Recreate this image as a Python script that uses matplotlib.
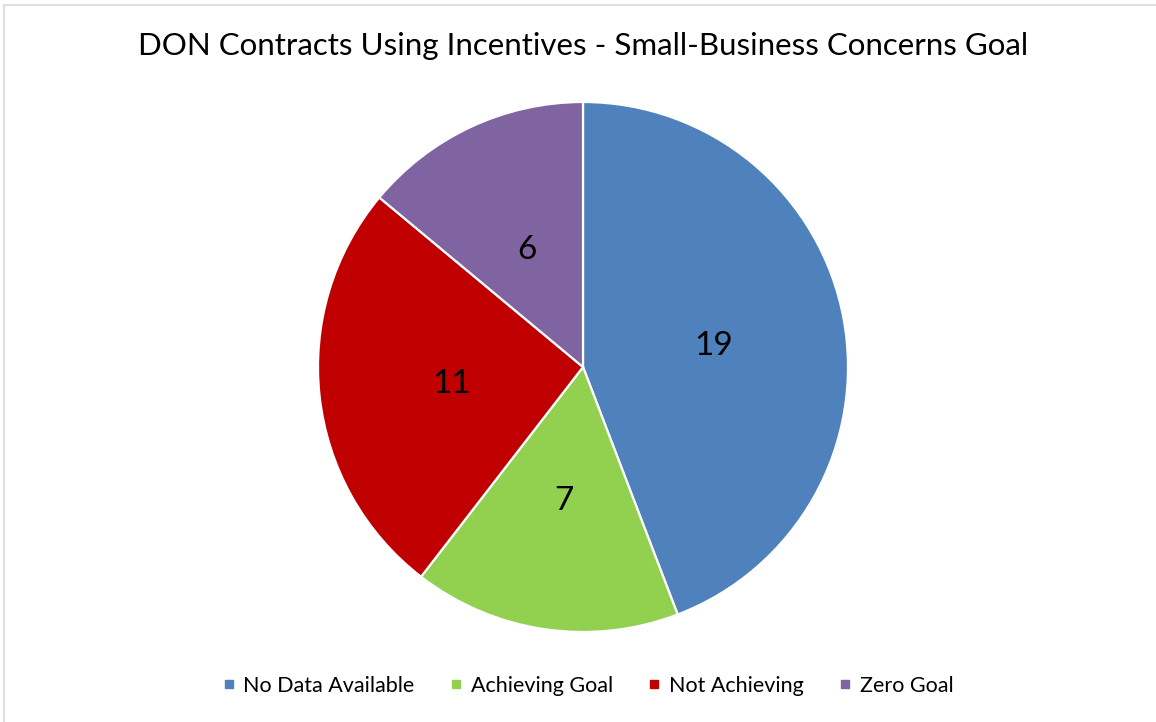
import matplotlib
matplotlib.use("Agg")
import matplotlib.pyplot as plt
from matplotlib.lines import Line2D

categories = ["No Data Available", "Achieving Goal", "Not Achieving", "Zero Goal"]
values = [19, 7, 11, 6]
colors = ["#4F81BD", "#92D050", "#C00000", "#8064A2"]
title = "DON Contracts Using Incentives - Small-Business Concerns Goal"

plt.rcParams['font.family'] = ['Lato', 'DejaVu Sans']

W, H = 1156, 722
fig = plt.figure(figsize=(W / 100, H / 100), dpi=100)
fig.patch.set_facecolor("white")

cx, cy, r = 583, 367, 265
ax = fig.add_axes([(cx - r) / W, 1 - (cy + r) / H, 2 * r / W, 2 * r / H])
wedges, texts, autotexts = ax.pie(
    values, colors=colors, startangle=90, counterclock=False,
    autopct=lambda p: f"{round(p * sum(values) / 100):d}", pctdistance=0.5,
    wedgeprops=dict(edgecolor="white", linewidth=1.6),
    textprops=dict(fontsize=24, color="black"))
for t in autotexts:
    t.set_va("center_baseline")
ax.set_xlim(-1, 1)
ax.set_ylim(-1, 1)
ax.set_aspect("equal")
ax.axis("off")

fig.text(583 / W, 1 - 46 / H, title, ha="center", va="center", fontsize=22.5)

handles = [Line2D([0], [0], marker="s", linestyle="none", markersize=5.8,
                  markerfacecolor=c, markeredgecolor=c) for c in colors]
leg = fig.legend(handles, categories, loc="center", bbox_to_anchor=(589 / W, 1 - 686 / H),
                 ncol=4, frameon=False, fontsize=15.5, handlelength=0.4,
                 handletextpad=0.48, columnspacing=1.73, borderpad=0, borderaxespad=0)

# light border on top/left
fig.add_artist(Line2D([4 / W, 4 / W], [0, 1 - 5 / H], color="#D9D9D9", lw=1.2, transform=fig.transFigure))
fig.add_artist(Line2D([4 / W, 1], [1 - 5 / H, 1 - 5 / H], color="#D9D9D9", lw=1.2, transform=fig.transFigure))

fig.savefig("out.png", dpi=100)
